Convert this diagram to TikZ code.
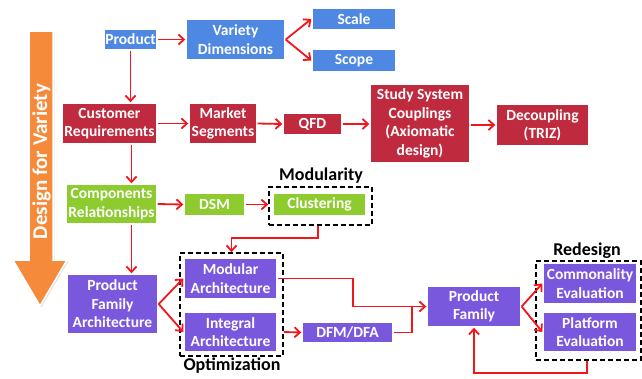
\documentclass[tikz,border=0pt]{standalone}
\usepackage{fontspec}
\setmainfont{Carlito}
\usetikzlibrary{arrows.meta,shadows}

\definecolor{boxblue}{HTML}{4F88E3}
\definecolor{boxred}{HTML}{BF2A3F}
\definecolor{boxgreen}{HTML}{8DCB2F}
\definecolor{boxpurple}{HTML}{7A58DE}
\definecolor{flowred}{HTML}{F5141A}
\definecolor{dfvorange}{HTML}{F58A3A}

\tikzset{
  box/.style={draw=white, line width=1.4pt, text=white, align=center, inner sep=0pt,
    font=\fontsize{15.5}{18.5}\selectfont\bfseries,
    drop shadow={shadow xshift=1.3pt, shadow yshift=-1.3pt, opacity=0.3}},
  bluebox/.style={box, fill=boxblue},
  redbox/.style={box, fill=boxred},
  greenbox/.style={box, fill=boxgreen},
  purplebox/.style={box, fill=boxpurple},
  flow/.style={draw=flowred, line width=1.8pt, -{Straight Barb[length=5.5pt,width=10pt]}},
  link/.style={draw=flowred, line width=1.8pt},
  group/.style={draw=black, dash pattern=on 5pt off 3pt, line width=1.6pt, inner sep=0pt},
  grouplabel/.style={font=\fontsize{18}{20}\selectfont\bfseries, text=black, inner sep=0pt}
}

\begin{document}
\begin{tikzpicture}[x=1pt, y=-1pt]
\useasboundingbox[fill=white] (0,0) rectangle (642,378);

% Design-for-variety arrow
\path[fill=dfvorange, draw=white, line width=1.5pt, line join=miter,
      drop shadow={shadow xshift=1.3pt, shadow yshift=-1.3pt, opacity=0.25}]
  (29,31) -- (53,31) -- (53,260) -- (67,260) -- (40,306) -- (13,260) -- (29,260) -- cycle;
\node[rotate=90, text=white, font=\fontsize{21}{21}\selectfont\bfseries, inner sep=0pt]
  (dfv) at (41.5,161.5) {Design for Variety};

% dashed groups
\node[group, minimum width=103pt, minimum height=38pt]  (modbox) at (320.5,206) {};
\node[group, minimum width=103pt, minimum height=103pt] (optbox) at (231.5,304.5) {};
\node[group, minimum width=105pt, minimum height=99pt]  (redbox) at (588.5,310.5) {};
\node[grouplabel] (modlabel) at (321,176) {Modularity};
\node[grouplabel] (optlabel) at (232,366) {Optimization};
\node[grouplabel] (redlabel) at (587,251) {Redesign};

% boxes
\node[bluebox, minimum width=53pt, minimum height=21pt] (prod)  at (130.5,39.5) {Product};
\node[bluebox, minimum width=99pt, minimum height=41pt] (vard)  at (235.5,39.5) {Variety\\Dimensions};
\node[bluebox, minimum width=84pt, minimum height=22pt] (scale) at (354,19) {Scale};
\node[bluebox, minimum width=84pt, minimum height=23pt] (scope) at (354,60.5) {Scope};

\node[redbox, minimum width=95pt, minimum height=41pt]  (custreq) at (109.5,123.5) {Customer\\Requirements};
\node[redbox, minimum width=68pt, minimum height=41pt]  (market)  at (223,123.5) {Market\\Segments};
\node[redbox, minimum width=59pt, minimum height=22pt]  (qfd)     at (312.5,124) {QFD};
\node[redbox, minimum width=100pt, minimum height=79pt] (study)   at (420,123.5) {Study System\\Couplings\\(Axiomatic\\design)};
\node[redbox, minimum width=93pt, minimum height=42pt]  (decoup)  at (542.5,125) {Decoupling\\(TRIZ)};

\node[greenbox, minimum width=91pt, minimum height=40pt] (comprel) at (111.5,204) {Components\\Relationships};
\node[greenbox, minimum width=61pt, minimum height=23pt] (dsm)     at (214.5,204.5) {DSM};
\node[greenbox, minimum width=93pt, minimum height=23pt] (clust)   at (319.5,204.5) {Clustering};

\node[purplebox, minimum width=91pt, minimum height=60pt] (pfa)     at (112.5,304) {Product\\Family\\Architecture};
\node[purplebox, minimum width=93pt, minimum height=41pt] (modarch) at (230.5,278.5) {Modular\\Architecture};
\node[purplebox, minimum width=93pt, minimum height=40pt] (intarch) at (230.5,332) {Integral\\Architecture};
\node[purplebox, minimum width=91pt, minimum height=21pt] (dfm)     at (347.5,332.5) {DFM/DFA};
\node[purplebox, minimum width=94pt, minimum height=41pt] (pfam)    at (474,306.5) {Product\\Family};
\node[purplebox, minimum width=94pt, minimum height=41pt] (common)  at (590,283.5) {Commonality\\Evaluation};
\node[purplebox, minimum width=94pt, minimum height=40pt] (platf)   at (590,332) {Platform\\Evaluation};

% connectors
\draw[flow] (prod.east) -- (vard.west);
\draw[flow] (vard.east) -- (scale.west);
\draw[flow] (vard.east) -- (scope.west);
\draw[flow] (prod.south) -- (prod.south |- custreq.north);

\draw[flow] (custreq.east) -- (market.west);
\draw[flow] (market.east) -- (qfd.west);
\draw[flow] (qfd.east) -- (qfd.east -| study.west);
\draw[flow] (study.east |- decoup.west) -- (decoup.west);
\draw[flow] ([xshift=1pt]prod.south |- custreq.south) -- ([xshift=1pt]prod.south |- comprel.north);

\draw[flow] (comprel.east) -- (dsm.west);
\draw[flow] (dsm.east) -- (dsm.east -| modbox.west);
\draw[flow] ([xshift=1pt]prod.south |- comprel.south) -- ([xshift=1pt]prod.south |- pfa.north);
\draw[flow] ([xshift=-1.5pt]clust.south |- modbox.south) -- ++(0,12) -| (optbox.north);

\draw[flow] (pfa.east) -- (modarch.west);
\draw[flow] (pfa.east) -- (intarch.west);
\draw[flow] (optbox.east |- intarch.east) -- (dfm.west);
\draw[flow] (modarch.east) -- ++(75,0) |- (pfam.west);
\draw[link] (dfm.east) -- ++(18,0) |- (pfam.west);

\draw[flow] (pfam.east) -- (common.west);
\draw[flow] (pfam.east) -- (platf.west);
\draw[flow] ([xshift=-1.5pt]redbox.south) -- ++(0,12) -| (pfam.south);
\end{tikzpicture}
\end{document}
